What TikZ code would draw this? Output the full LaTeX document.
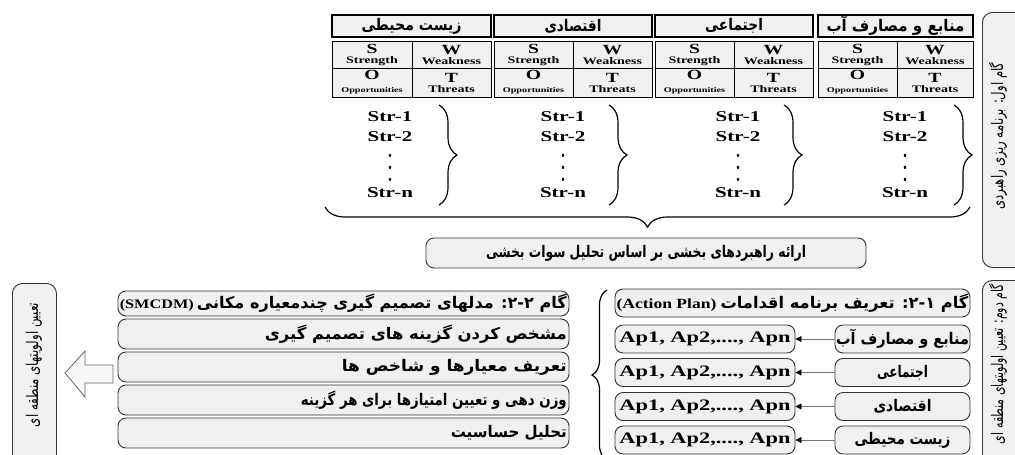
\documentclass[tikz,border=0pt]{standalone}
\usepackage{fontspec}
\usepackage{graphicx}
\setmainfont{Liberation Serif}[FakeStretch=1.4]
\newfontfamily\arf[Script=Arabic]{DejaVu Sans}
\TeXXeTstate=1
\usetikzlibrary{arrows.meta,decorations.pathreplacing}
% bold Arabic, resized horizontally to a given width
\newcommand\arb[3]{{\fontsize{#2}{#2}\selectfont\arf\bfseries\resizebox{#1}{\height}{#3}}}
% regular Arabic
\newcommand\arr[3]{{\fontsize{#2}{#2}\selectfont\arf\resizebox{#1}{\height}{#3}}}
% bold Latin, resized horizontally
\newcommand\latb[3]{{\fontsize{#2}{#2}\selectfont\bfseries\resizebox{#1}{\height}{#3}}}
\tikzset{
  rb/.style={draw=black!80, line width=0.9pt, rounded corners=8pt, fill=black!6, inner sep=0pt},
  hb/.style={draw=black, line width=1.2pt, fill=black!6, inner sep=0pt},
  cell/.style={draw=black, line width=1pt, fill=black!6, inner sep=0pt, align=center},
  strtxt/.style={font=\fontsize{15}{20}\selectfont\bfseries, inner sep=0pt},
  brc/.style={line width=1.2pt, decorate, decoration={brace, amplitude=#1}},
  conn/.style={draw=black!55, line width=0.9pt, -{Triangle[black, length=6pt, width=6pt]}},
}
\begin{document}
\begin{tikzpicture}[x=1pt,y=-1pt]
\clip (0,0) rectangle (1015,455);
\fill[white] (0,0) rectangle (1015,455);

% ---- top headers
\node[hb, minimum width=159pt, minimum height=22pt] (h1) at (411.5,26) {\arb{100pt}{16}{\beginR زیست محیطی\endR}};
\node[hb, minimum width=158pt, minimum height=22pt] (h2) at (573,26) {\arb{57pt}{16}{\beginR اقتصادی\endR}};
\node[hb, minimum width=158pt, minimum height=22pt] (h3) at (734,26) {\arb{58pt}{16}{\beginR اجتماعی\endR}};
\node[hb, minimum width=155pt, minimum height=22pt] (h4) at (895.5,26) {\arb{138pt}{16}{\beginR منابع و مصارف آب\endR}};

% ---- SWOT grids
\foreach \g/\L/\M/\R in {1/332/412/491, 2/494/573/652, 3/655/734/813, 4/818/897/973} {
  \node[cell, minimum width={\M-\L}, minimum height=27pt] (s\g) at ({(\L+\M)/2},54.5)
    {{\fontsize{14}{13}\selectfont\bfseries S}\\[-2pt]{\fontsize{10}{10}\selectfont\bfseries Strength}};
  \node[cell, minimum width={\R-\M}, minimum height=27pt] (w\g) at ({(\M+\R)/2},54.5)
    {{\fontsize{14}{13}\selectfont\bfseries W}\\[-2pt]{\fontsize{10}{10}\selectfont\bfseries Weakness}};
  \node[cell, minimum width={\M-\L}, minimum height=29pt] (o\g) at ({(\L+\M)/2},82.5)
    {{\fontsize{14}{13}\selectfont\bfseries O}\\[1pt]{\fontsize{7.3}{7.3}\selectfont\bfseries Opportunities}};
  \node[cell, minimum width={\R-\M}, minimum height=29pt] (t\g) at ({(\M+\R)/2},82.5)
    {{\fontsize{14}{13}\selectfont\bfseries T}\\[-2pt]{\fontsize{10}{10}\selectfont\bfseries Threats}};
}

% ---- strategy lists
\foreach \g/\X/\B in {1/390/439, 2/563/609, 3/738/784, 4/905/954} {
  \node[strtxt] (a\g) at (\X,117) {Str-1};
  \node[strtxt] (b\g) at (\X,137) {Str-2};
  \node[inner sep=0pt] (d\g) at (\X,168) {\rotatebox{90}{\fontsize{15}{15}\selectfont\bfseries . . .}};
  \node[strtxt] (n\g) at (\X,193) {Str-n};
  \draw[brc=18pt] (\B,105) -- (\B,205);
}

% ---- big brace and sector strategies box
\coordinate (bbR) at (970,207);
\coordinate (bbL) at (325,207);
\draw[brc=20pt] (bbR) -- (bbL);
\node[rb, minimum width=440pt, minimum height=30pt] (sw) at (646,253)
  {\arb{320pt}{16}{\beginR ارائه راهبردهای بخشی بر اساس تحلیل سوات بخشی\endR}};

% ---- right side step boxes
\node[rb, rounded corners=10pt, minimum width=60pt, minimum height=255pt, anchor=north west] (st1) at (982,12) {};
\node[rotate=90, inner sep=0pt] (st1t) at (998,136) {\arr{147pt}{16}{\beginR گام اول: برنامه ریزی راهبردی\endR}};
\node[rb, rounded corners=10pt, minimum width=60pt, minimum height=200pt, anchor=north west] (st2) at (982,280) {};
\node[rotate=90, inner sep=0pt] (st2t) at (998,364) {\arr{160pt}{16}{\beginR گام دوم: تعیین اولویتهای منطقه ای\endR}};

% ---- left result box
\node[rb, rounded corners=10pt, minimum width=44pt, minimum height=200pt, anchor=north west] (res) at (12,283) {};
\node[rotate=90, inner sep=0pt] (rest) at (34,365) {\arr{124pt}{16}{\beginR تعیین اولویتهای منطقه ای\endR}};

% ---- big hollow arrow
\draw[draw=black!60, fill=black!3, line width=0.8pt]
  (65,373) -- (85,351) -- (85,365) -- (113,365) -- (113,383) -- (85,383) -- (85,397) -- cycle;

% ---- SMCDM column
\node[rb, minimum width=451pt, minimum height=25pt] (m1) at (343.5,303.5) {};
\node[anchor=east, inner sep=0pt] (m1t) at (567,303.5)
  {\latb{74pt}{13}{(SMCDM)}\hspace{3pt}\arb{370pt}{16}{\beginR گام ۲-۲: مدلهای تصمیم گیری چندمعیاره مکانی\endR}};
\node[rb, minimum width=451pt, minimum height=30pt] (m2) at (343.5,334) {};
\node[anchor=east, inner sep=0pt] (m2t) at (567,334) {\arb{302pt}{16}{\beginR مشخص کردن گزینه های تصمیم گیری\endR}};
\node[rb, minimum width=451pt, minimum height=30pt] (m3) at (343.5,367) {};
\node[anchor=east, inner sep=0pt] (m3t) at (567,367) {\arb{225pt}{16}{\beginR تعریف معیارها و شاخص ها\endR}};
\node[rb, minimum width=451pt, minimum height=30pt] (m4) at (343.5,400) {};
\node[anchor=east, inner sep=0pt] (m4t) at (567,400) {\arb{266pt}{16}{\beginR وزن دهی و تعیین امتیازها برای هر گزینه\endR}};
\node[rb, minimum width=451pt, minimum height=30pt] (m5) at (343.5,433) {};
\node[anchor=east, inner sep=0pt] (m5t) at (567,433) {\arb{116pt}{16}{\beginR تحلیل حساسیت\endR}};

% ---- Action plan column
\draw[brc=15pt] (607,460) -- (607,290);
\node[rb, minimum width=355pt, minimum height=28pt] (p0) at (792.5,303)
  {\latb{100pt}{14}{(Action Plan)}\hspace{4pt}\arb{248pt}{16}{\beginR گام ۲-۱: تعریف برنامه اقدامات\endR}};
\node[rb, minimum width=180pt, minimum height=28pt] (ap1) at (705,339) {\fontsize{16}{16}\selectfont\bfseries Ap1, Ap2,...., Apn};
\node[rb, minimum width=135pt, minimum height=28pt] (sec1) at (902.5,339) {\arb{133pt}{16}{\beginR منابع و مصارف آب\endR}};
\node[rb, minimum width=180pt, minimum height=28pt] (ap2) at (705,372.5) {\fontsize{16}{16}\selectfont\bfseries Ap1, Ap2,...., Apn};
\node[rb, minimum width=135pt, minimum height=28pt] (sec2) at (902.5,372.5) {\arb{51pt}{16}{\beginR اجتماعی\endR}};
\node[rb, minimum width=180pt, minimum height=28pt] (ap3) at (705,406.5) {\fontsize{16}{16}\selectfont\bfseries Ap1, Ap2,...., Apn};
\node[rb, minimum width=135pt, minimum height=28pt] (sec3) at (902.5,406.5) {\arb{58pt}{16}{\beginR اقتصادی\endR}};
\node[rb, minimum width=180pt, minimum height=28pt] (ap4) at (705,440) {\fontsize{16}{16}\selectfont\bfseries Ap1, Ap2,...., Apn};
\node[rb, minimum width=135pt, minimum height=28pt] (sec4) at (902.5,440) {\arb{96pt}{16}{\beginR زیست محیطی\endR}};
\foreach \i in {1,...,4} {
  \draw[conn] (sec\i.west) -- (ap\i.east);
}
\end{tikzpicture}
\end{document}
